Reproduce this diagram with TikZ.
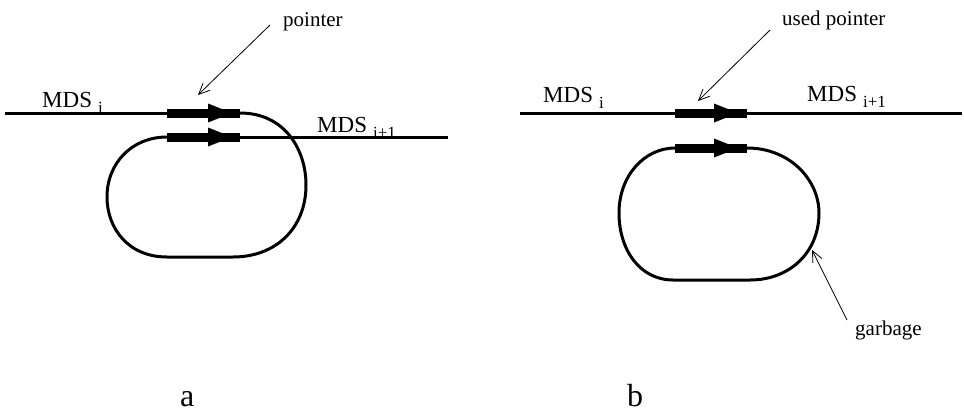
\documentclass[tikz,border=0pt]{standalone}
\usepackage{fontspec}
\setmainfont{Liberation Serif}
\usepackage{tikz}
\usetikzlibrary{arrows.meta, positioning, calc}
\newcommand{\mdsname}[1]{MDS\hspace{6pt}\raisebox{-6pt}{\fontsize{17}{17}\selectfont #1}}

\begin{document}
\begin{tikzpicture}[x=1pt, y=-1pt,
  wire/.style={line width=3pt},
  ptrbar/.style={line width=9pt},
  leader/.style={line width=0.8pt, -{Straight Barb[length=11pt,width=10pt]}},
  tag/.style={anchor=base west, inner sep=0pt, font=\fontsize{21}{21}\selectfont},
  mds/.style={anchor=base west, inner sep=0pt, font=\fontsize{23}{23}\selectfont},
  panel/.style={anchor=base west, inner sep=0pt, font=\fontsize{32}{32}\selectfont}]
\useasboundingbox (0,0) rectangle (964,413);
% panel a
\draw[wire] (5,113) -- (240,113);
\draw[wire] (240,137) -- (448,137);
\draw[wire] (240,113) .. controls (285,113) and (306,150) .. (306,185)
  .. controls (306,228) and (276,257) .. (233,257) -- (167,257)
  .. controls (128,257) and (107,228) .. (107,197)
  .. controls (107,163) and (132,137) .. (167,137);
% panel b
\draw[wire] (520,113) -- (962,113);
\draw[wire] (747,148) .. controls (790,148) and (819,180) .. (819,213)
  .. controls (819,252) and (790,280) .. (750,280) -- (673,280)
  .. controls (640,280) and (619,250) .. (619,213)
  .. controls (619,175) and (645,148) .. (675,148);
\foreach \xa/\xb/\xt/\y in {167/240/232/113, 167/240/232/137, 675/747/738/113, 675/747/738/148} {
  \draw[ptrbar] (\xa,\y) -- (\xb,\y);
  \fill (\xt-24,\y-9.5) -- (\xt,\y) -- (\xt-24,\y+9.5) -- cycle;
}
\node[mds] (mdsia) at (42,107) {\mdsname{i}};
\node[mds] (mdsja) at (317,132) {\mdsname{i+1}};
\node[mds] (mdsib) at (543,102) {\mdsname{i}};
\node[mds] (mdsjb) at (807,101) {\mdsname{i+1}};
\node[tag] (ptr) at (283,26) {pointer};
\node[tag] (usedptr) at (782,25) {used pointer};
\node[tag] (garbage) at (855,335) {garbage};
\coordinate (ptrtip) at (198,95);
\coordinate (usedtip) at (698,101);
\coordinate (garbtip) at (812,250);
\draw[leader] (ptr.base west) ++(-13,-1) -- (ptrtip);
\draw[leader] (usedptr.base west) ++(-12,5) -- (usedtip);
\draw[leader] (garbage.base west) ++(-8,-15) -- (garbtip);
\node[panel] (a) at (180,406) {a};
\node[panel] (b) at (627,406) {b};
\end{tikzpicture}
\end{document}
